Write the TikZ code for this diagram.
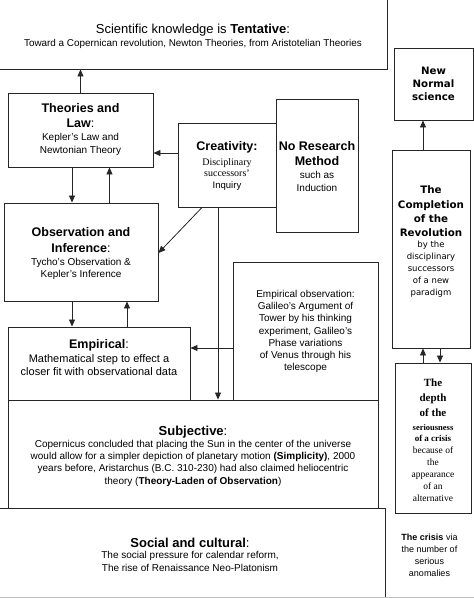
\documentclass[tikz,border=0pt]{standalone}
\usepackage{fontspec}
\setmainfont{Liberation Sans}
\newfontfamily\dvs{DejaVu Sans}
\newfontfamily\tms{Liberation Serif}
\usetikzlibrary{arrows.meta}
\newcommand\fsz[2]{\fontsize{#1}{#2}\selectfont}
\newcommand\hb[1]{{\fsz{12.5}{15}\bfseries #1}}
\newcommand\hr[1]{{\fsz{12.5}{15}#1}}
\newcommand\hB[1]{{\fsz{13}{15}\bfseries #1}}
\newcommand\hR[1]{{\fsz{13}{15}#1}}
\newcommand\cb[1]{{\fsz{10.3}{14}\bfseries #1}}
\newcommand\db[1]{{\fsz{11}{14}\bfseries #1}}
\begin{document}
\begin{tikzpicture}[x=1pt,y=-1pt,
  box/.style={draw=black!85, line width=0.9pt, inner sep=0pt},
  txt/.style={align=center, inner sep=0pt, text=black},
  arr/.style={draw=black!85, line width=0.8pt, -{Triangle[length=7pt,width=6pt]}}]
\useasboundingbox (0,0) rectangle (474,598);
\clip (0,0) rectangle (474,598);
\fill[white] (0,0) rectangle (474,598);

% boxes
\node[box, minimum width=392pt, minimum height=79pt] (top) at (191,29.5) {};
\node[box, minimum width=79pt, minimum height=72pt] (new) at (433.5,84) {};
\node[box, minimum width=145pt, minimum height=74pt] (theo) at (80.5,130) {};
\node[box, minimum width=82pt, minimum height=133pt] (nores) at (317,165.5) {};
\node[box, minimum width=98pt, minimum height=84pt] (crea) at (227,165) {};
\node[box, minimum width=78pt, minimum height=198pt] (comp) at (431,249) {};
\node[box, minimum width=154pt, minimum height=98pt] (obs) at (81,252) {};
\node[box, minimum width=145pt, minimum height=138pt] (empobs) at (305.5,331) {};
\node[box, minimum width=182pt, minimum height=73pt] (emp) at (99,363.5) {};
\node[box, minimum width=370pt, minimum height=108pt] (subj) at (193,454) {};
\node[box, minimum width=76pt, minimum height=150pt] (depth) at (433,438) {};
\node[box, minimum width=395pt, minimum height=100pt] (social) at (187.5,558) {};
\draw[black!25, line width=0.8pt] (0,597) -- (474,597);

% texts
\node[txt, font=\fsz{9.9}{12.5}] (topt) at (193,36) {{\fsz{13}{15}Scientific knowledge is \textbf{Tentative}:}\\[0.5pt]
  Toward a Copernican revolution, Newton Theories, from Aristotelian Theories};
\node[txt, font=\fsz{10}{13}] (theot) at (80.5,129.5) {\hb{Theories and}\\[2pt] \hb{Law}\hr{:}\\
  Kepler's Law and\\ Newtonian Theory};
\node[txt, font=\fsz{10}{11.5}] (creat) at (227,165.5) {\hb{Creativity:}\\[3.5pt]
  {\tms Disciplinary}\\ {\tms successors’}\\ {\fsz{9.5}{11.5}Inquiry}};
\node[txt, font=\fsz{10}{12.5}] (norest) at (317,166.5) {\hb{No Research}\\[2.5pt] \hb{Method}\\[0.5pt]
  such as\\ Induction};
\node[txt, font=\fsz{10}{11.5}] (obst) at (81,253.5) {\hb{Observation and}\\[4.5pt] \hb{Inference}\hr{:}\\[2pt]
  Tycho’s Observation \&\\ Kepler’s Inference};
\node[txt, font=\fsz{11}{13.5}] (empt) at (99,358) {\hb{Empirical}\hr{:}\\
  Mathematical step to effect a\\ closer fit with observational data};
\node[txt, font=\fsz{10}{12.2}] (empobst) at (305.5,331.5) {Empirical observation:\\ Galileo’s Argument of\\
  Tower by his thinking\\ experiment, Galileo’s\\ Phase variations\\ of Venus through his\\ telescope};
\node[txt, font=\fsz{10}{12.3}] (subjt) at (193,456) {\hB{Subjective}\hR{:}\\[-0.5pt]
  Copernicus concluded that placing the Sun in the center of the universe\\
  would allow for a simpler depiction of planetary motion \textbf{(Simplicity)}, 2000\\
  years before, Aristarchus (B.C. 310-230) had also claimed heliocentric\\
  theory (\textbf{Theory-Laden of Observation})};
\node[txt, font=\fsz{10}{12.3}] (socialt) at (190,554.5) {\hB{Social and cultural}\hR{:}\\[-0.5pt]
  The social pressure for calendar reform,\\ The rise of Renaissance Neo-Platonism};
\node[txt, font=\fsz{10.2}{13}\dvs\bfseries] (newt) at (433.5,84) {New\\ Normal\\ science};
\node[txt, font=\fsz{8.5}{12}\dvs] (compt) at (431,241.5) {\cb{The}\\[3pt] \cb{Completion}\\[2pt] \cb{of the}\\[2pt]
  \cb{Revolution}\\[-0.5pt] by the\\ disciplinary\\ successors\\ of a new\\ paradigm};
\node[txt, font=\fsz{9.5}{12}\tms] (deptht) at (433,440) {\db{The}\\[3pt] \db{depth}\\[3pt] \db{of the}\\[2pt]
  {\fsz{8.5}{12}\bfseries seriousness}\\[-0.5pt] {\fsz{9}{12}\bfseries of a crisis}\\
  because of\\ the\\ appearance\\ of an\\ alternative};
\node[txt, font=\fsz{9}{12}] (crisis) at (429.5,555) {\textbf{The crisis} via\\ the number of\\ serious\\ anomalies};

% connectors
\draw[arr] (theo.north) -- (theo.north |- top.south);
\draw[arr] ([yshift=12pt]crea.west) -- ([yshift=12pt]crea.west -| theo.east);
\draw[arr] ([xshift=-8.5pt]theo.south) -- ([xshift=-8.5pt]theo.south |- obs.north);
\draw[arr] ([xshift=28.5pt]obs.north) -- ([xshift=28.5pt]obs.north |- theo.south);
\draw[arr] ([xshift=-25pt]crea.south) -- ([yshift=-1pt]obs.east);
\draw[arr] ([xshift=-9pt]crea.south) -- ([xshift=-9pt]crea.south |- subj.north);
\draw[arr] ([xshift=-9pt]obs.south) -- ([xshift=-9pt]obs.south |- emp.north);
\draw[arr] ([xshift=28pt]emp.north) -- ([xshift=28pt]emp.north |- obs.south);
\draw[arr] ([yshift=-17pt]empobs.west) -- ([yshift=-17pt]empobs.west -| emp.east);
\draw[arr] ([xshift=-8pt]comp.north) -- ([xshift=-8pt]comp.north |- new.south);
\draw[arr] ([xshift=-10pt]depth.north) -- ([xshift=-10pt]depth.north |- comp.south);
\draw[arr] ([xshift=9pt]comp.south) -- ([xshift=9pt]comp.south |- depth.north);
\end{tikzpicture}
\end{document}
